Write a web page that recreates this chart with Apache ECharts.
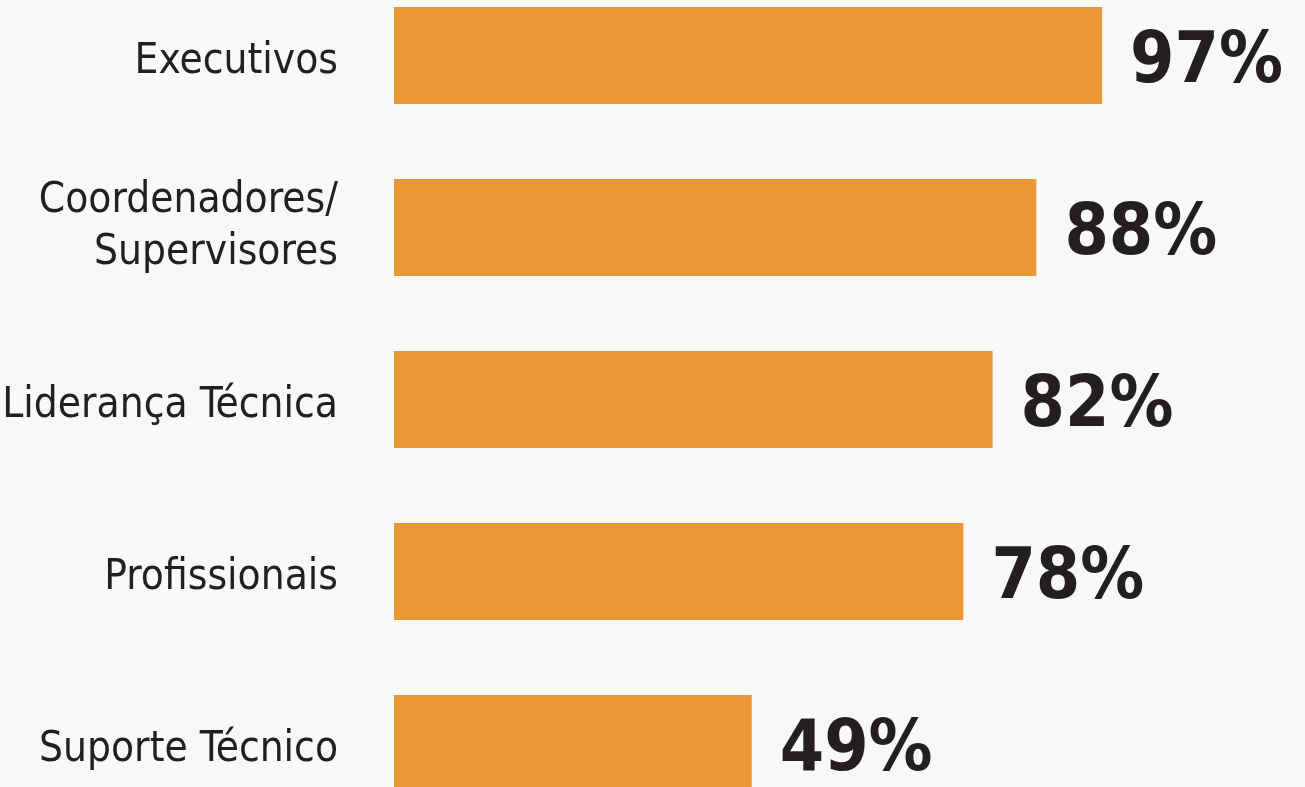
<!DOCTYPE html>
<html>
<head>
<meta charset="utf-8">
<script src="https://cdn.jsdelivr.net/npm/echarts@6/dist/echarts.min.js"></script>
<style>
html,body{margin:0;padding:0;background:#F7F8FA;}
#chart{width:1305px;height:787px;}
</style>
</head>
<body>
<div id="chart"></div>
<script>
const categories = ['Executivos', 'Coordenadores/\nSupervisores', 'Liderança Técnica', 'Profissionais', 'Suporte Técnico'];
const values = [97, 88, 82, 78, 49];

const labelFont = '"DejaVu Sans Condensed", sans-serif';
const chart = echarts.init(document.getElementById('chart'));
chart.setOption({
  backgroundColor: '#F7F8FA',
  animation: false,
  grid: { left: 394, right: 181, top: -30.5, bottom: -42.5, containLabel: false, outerBoundsMode: 'none' },
  xAxis: {
    type: 'value', min: 0, max: 100, show: false
  },
  yAxis: {
    type: 'category', data: categories, inverse: true,
    axisLine: { show: false }, axisTick: { show: false }, splitLine: { show: false },
    axisLabel: {
      margin: 56, color: '#231F20', fontSize: 42, lineHeight: 52,
      fontFamily: labelFont,
      align: 'right',
      formatter: v => {
        const lines = v.split('\n');
        return lines.map(s => (lines.length === 1 ? '{f|' : '{n|') + s + '}').join('\n');
      },
      rich: {
        f: { fontSize: 42, lineHeight: 52, fontFamily: labelFont, color: '#231F20', padding: [14, 0, 0, 0] },
        n: { fontSize: 42, lineHeight: 52, fontFamily: labelFont, color: '#231F20' }
      }
    }
  },
  series: [{
    type: 'bar', data: values, barWidth: 97,
    itemStyle: { color: '#EC9736' },
    label: {
      show: true, position: 'right', distance: 28, offset: [0, 8],
      formatter: p => p.value + '%',
      color: '#231F20', fontSize: 71, fontWeight: 'bold',
      fontFamily: labelFont
    }
  }]
});
</script>
</body>
</html>
